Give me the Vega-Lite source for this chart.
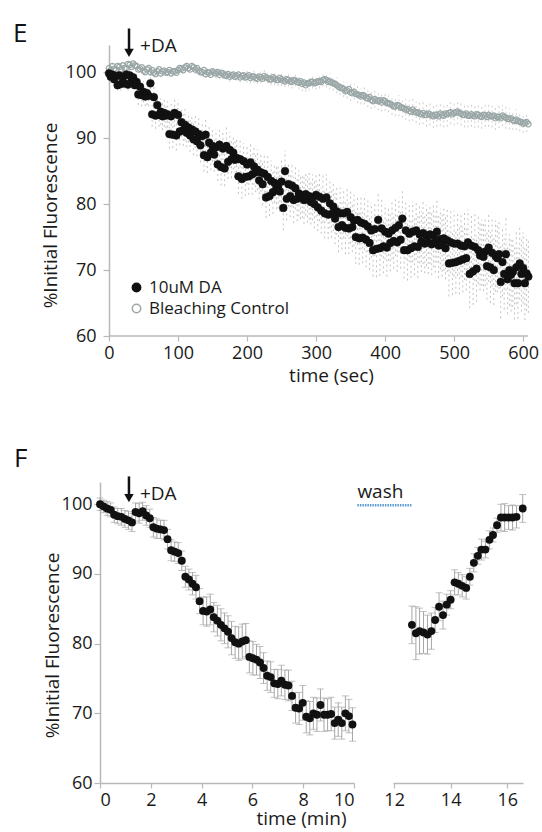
{
"$schema": "https://vega.github.io/schema/vega-lite/v6.json",
"background": "white",
"padding": {"left": 13, "top": 21, "right": 0, "bottom": 0},
"config": {
 "font": "Open Sans",
 "view": {"stroke": null},
 "axis": {"grid": false, "domainColor": "#b8b8b8", "domainWidth": 1.5, "tickColor": "#b8b8b8", "tickWidth": 1.2, "tickSize": 5, "labelFontSize": 18, "labelColor": "#1a1a1a", "titleFontSize": 19, "titleFontWeight": "normal", "titleColor": "#1a1a1a", "labelFont": "Open Sans", "titleFont": "Open Sans"},
 "title": {"fontSize": 26, "fontWeight": "normal", "color": "#111111", "font": "Open Sans"}
},
"datasets": {
 "da": [
{"t":0,"v":99.8,"e":0.8},{"t":2.5,"v":99.3,"e":0.9},{"t":5,"v":99.6,"e":0.8},{"t":7.5,"v":98.9,"e":0.9},{"t":10,"v":99.4,"e":0.9},{"t":12.5,"v":98.0,"e":0.8},{"t":15,"v":99.5,"e":0.8},{"t":17.5,"v":98.2,"e":1.0},{"t":20,"v":99.2,"e":0.9},{"t":22.5,"v":98.3,"e":0.8},{"t":25,"v":99.6,"e":1.0},{"t":27.5,"v":98.1,"e":0.9},{"t":30,"v":99.5,"e":0.9},{"t":32.5,"v":98.6,"e":1.1},{"t":35,"v":99.2,"e":1.2},{"t":37.5,"v":98.0,"e":1.3},
{"t":40,"v":98.5,"e":1.4},{"t":42.5,"v":96.6,"e":1.6},{"t":45,"v":97.8,"e":1.5},{"t":47.5,"v":96.5,"e":1.7},{"t":50,"v":97.0,"e":1.6},{"t":52.5,"v":96.3,"e":1.5},{"t":55,"v":96.8,"e":1.8},{"t":57.5,"v":96.4,"e":1.6},{"t":60,"v":98.3,"e":1.7},{"t":62.5,"v":93.6,"e":1.9},{"t":65,"v":96.2,"e":1.8},{"t":67.5,"v":93.4,"e":2.0},{"t":70,"v":95.0,"e":1.9},{"t":72.5,"v":93.5,"e":1.8},{"t":75,"v":94.0,"e":2.0},{"t":77.5,"v":93.3,"e":2.1},
{"t":80,"v":93.8,"e":2.1},{"t":82.5,"v":93.4,"e":1.9},{"t":85,"v":93.6,"e":2.0},{"t":87.5,"v":90.6,"e":2.2},{"t":90,"v":93.3,"e":2.2},{"t":92.5,"v":90.5,"e":2.0},{"t":95,"v":93.8,"e":2.1},{"t":97.5,"v":90.4,"e":2.3},{"t":100,"v":93.5,"e":2.3},{"t":102.5,"v":91.0,"e":2.1},{"t":105,"v":92.4,"e":2.2},{"t":107.5,"v":91.2,"e":2.4},{"t":110,"v":92.0,"e":2.4},{"t":112.5,"v":90.8,"e":2.2},{"t":115,"v":91.6,"e":2.3},{"t":117.5,"v":90.4,"e":2.5},
{"t":120,"v":91.3,"e":2.2},{"t":122.5,"v":89.8,"e":2.4},{"t":125,"v":91.0,"e":2.5},{"t":127.5,"v":89.5,"e":2.3},{"t":130,"v":90.6,"e":2.4},{"t":132.5,"v":88.9,"e":2.6},{"t":135,"v":90.3,"e":2.3},{"t":137.5,"v":87.4,"e":2.5},{"t":140,"v":90.5,"e":2.6},{"t":142.5,"v":87.1,"e":2.4},{"t":145,"v":89.3,"e":2.5},{"t":147.5,"v":87.8,"e":2.7},{"t":150,"v":88.8,"e":2.4},{"t":152.5,"v":87.5,"e":2.6},{"t":155,"v":88.6,"e":2.7},{"t":157.5,"v":86.0,"e":2.5},
{"t":160,"v":89.0,"e":2.6},{"t":162.5,"v":85.6,"e":2.8},{"t":165,"v":88.4,"e":2.5},{"t":167.5,"v":85.4,"e":2.7},{"t":170,"v":88.8,"e":2.8},{"t":172.5,"v":86.4,"e":2.6},{"t":175,"v":88.2,"e":2.7},{"t":177.5,"v":86.8,"e":2.9},{"t":180,"v":87.8,"e":2.6},{"t":182.5,"v":86.7,"e":2.8},{"t":185,"v":87.0,"e":2.9},{"t":187.5,"v":84.2,"e":2.7},{"t":190,"v":86.8,"e":2.8},{"t":192.5,"v":83.8,"e":3.0},{"t":195,"v":86.5,"e":2.7},{"t":197.5,"v":84.1,"e":2.9},
{"t":200,"v":86.0,"e":3.0},{"t":202.5,"v":84.2,"e":2.8},{"t":205,"v":86.3,"e":2.9},{"t":207.5,"v":84.5,"e":3.1},{"t":210,"v":85.7,"e":2.8},{"t":212.5,"v":84.8,"e":3.0},{"t":215,"v":85.2,"e":3.1},{"t":217.5,"v":83.6,"e":2.9},{"t":220,"v":84.8,"e":3.0},{"t":222.5,"v":83.0,"e":3.2},{"t":225,"v":84.6,"e":2.9},{"t":227.5,"v":81.0,"e":3.1},{"t":230,"v":84.1,"e":3.2},{"t":232.5,"v":81.2,"e":3.0},{"t":235,"v":83.5,"e":3.1},{"t":237.5,"v":81.8,"e":3.3},
{"t":240,"v":83.2,"e":3.0},{"t":242.5,"v":82.4,"e":3.2},{"t":245,"v":82.6,"e":3.3},{"t":247.5,"v":81.9,"e":3.1},{"t":250,"v":83.4,"e":3.2},{"t":252.5,"v":79.4,"e":3.4},{"t":255,"v":85.0,"e":3.1},{"t":257.5,"v":80.8,"e":3.3},{"t":260,"v":83.0,"e":3.4},{"t":262.5,"v":81.2,"e":3.2},{"t":265,"v":82.8,"e":3.3},{"t":267.5,"v":80.6,"e":3.5},{"t":270,"v":82.4,"e":3.2},{"t":272.5,"v":80.8,"e":3.4},{"t":275,"v":81.6,"e":3.5},{"t":277.5,"v":81.0,"e":3.3},
{"t":280,"v":81.3,"e":3.4},{"t":282.5,"v":80.6,"e":3.6},{"t":285,"v":81.5,"e":3.3},{"t":287.5,"v":80.7,"e":3.5},{"t":290,"v":81.2,"e":3.6},{"t":292.5,"v":80.3,"e":3.4},{"t":295,"v":81.0,"e":3.5},{"t":297.5,"v":80.0,"e":3.7},{"t":300,"v":81.4,"e":3.4},{"t":302.5,"v":79.5,"e":3.6},{"t":305,"v":81.1,"e":3.7},{"t":307.5,"v":79.0,"e":3.5},{"t":310,"v":80.8,"e":3.6},{"t":312.5,"v":78.6,"e":3.8},{"t":315,"v":81.0,"e":3.5},{"t":317.5,"v":78.4,"e":3.7},
{"t":320,"v":80.1,"e":3.8},{"t":322.5,"v":78.5,"e":3.6},{"t":325,"v":79.6,"e":3.7},{"t":327.5,"v":77.8,"e":3.9},{"t":330,"v":78.9,"e":3.6},{"t":332.5,"v":76.5,"e":3.8},{"t":335,"v":78.6,"e":3.9},{"t":337.5,"v":76.8,"e":3.7},{"t":340,"v":78.6,"e":3.8},{"t":342.5,"v":76.4,"e":4.0},{"t":345,"v":78.8,"e":3.7},{"t":347.5,"v":76.3,"e":3.9},{"t":350,"v":78.0,"e":4.0},{"t":352.5,"v":76.5,"e":3.8},{"t":355,"v":77.5,"e":3.9},{"t":357.5,"v":75.0,"e":4.1},
{"t":360,"v":77.6,"e":3.8},{"t":362.5,"v":74.8,"e":4.0},{"t":365,"v":77.2,"e":4.1},{"t":367.5,"v":74.9,"e":3.9},{"t":370,"v":77.0,"e":4.0},{"t":372.5,"v":74.6,"e":4.2},{"t":375,"v":76.6,"e":3.9},{"t":377.5,"v":74.1,"e":4.1},{"t":380,"v":76.0,"e":4.2},{"t":382.5,"v":73.0,"e":4.0},{"t":385,"v":76.2,"e":4.1},{"t":387.5,"v":73.2,"e":4.3},{"t":390,"v":77.6,"e":4.0},{"t":392.5,"v":73.3,"e":4.2},{"t":395,"v":76.3,"e":4.3},{"t":397.5,"v":73.6,"e":4.1},
{"t":400,"v":75.8,"e":4.2},{"t":402.5,"v":73.4,"e":4.4},{"t":405,"v":75.5,"e":4.1},{"t":407.5,"v":74.1,"e":4.3},{"t":410,"v":76.0,"e":4.4},{"t":412.5,"v":74.4,"e":4.2},{"t":415,"v":76.4,"e":4.3},{"t":417.5,"v":74.2,"e":4.5},{"t":420,"v":76.8,"e":4.2},{"t":422.5,"v":74.6,"e":4.4},{"t":425,"v":77.8,"e":4.5},{"t":427.5,"v":73.0,"e":4.3},{"t":430,"v":76.0,"e":4.4},{"t":432.5,"v":73.0,"e":4.6},{"t":435,"v":75.5,"e":4.3},{"t":437.5,"v":73.3,"e":4.5},
{"t":440,"v":75.8,"e":4.6},{"t":442.5,"v":73.6,"e":4.4},{"t":445,"v":76.0,"e":4.5},{"t":447.5,"v":73.5,"e":4.7},{"t":450,"v":75.4,"e":4.4},{"t":452.5,"v":74.3,"e":4.6},{"t":455,"v":75.6,"e":4.7},{"t":457.5,"v":74.0,"e":4.5},{"t":460,"v":75.2,"e":4.6},{"t":462.5,"v":74.2,"e":4.8},{"t":465,"v":75.4,"e":4.5},{"t":467.5,"v":73.9,"e":4.7},{"t":470,"v":75.2,"e":4.8},{"t":472.5,"v":74.2,"e":4.6},{"t":475,"v":75.8,"e":4.7},{"t":477.5,"v":73.7,"e":4.9},
{"t":480,"v":74.7,"e":4.6},{"t":482.5,"v":73.8,"e":4.8},{"t":485,"v":74.8,"e":4.9},{"t":487.5,"v":73.3,"e":4.7},{"t":490,"v":74.5,"e":4.8},{"t":492.5,"v":71.0,"e":5.0},{"t":495,"v":74.2,"e":4.7},{"t":497.5,"v":71.1,"e":4.9},{"t":500,"v":74.0,"e":5.0},{"t":502.5,"v":71.2,"e":4.8},{"t":505,"v":74.0,"e":4.9},{"t":507.5,"v":71.4,"e":5.1},{"t":510,"v":73.7,"e":4.8},{"t":512.5,"v":71.6,"e":5.0},{"t":515,"v":73.6,"e":5.1},{"t":517.5,"v":71.8,"e":4.9},
{"t":520,"v":74.2,"e":5.0},{"t":522.5,"v":69.4,"e":5.2},{"t":525,"v":73.7,"e":4.9},{"t":527.5,"v":69.8,"e":5.1},{"t":530,"v":73.5,"e":5.2},{"t":532.5,"v":70.2,"e":5.0},{"t":535,"v":73.0,"e":5.1},{"t":537.5,"v":72.2,"e":5.3},{"t":540,"v":72.6,"e":5.0},{"t":542.5,"v":72.0,"e":5.2},{"t":545,"v":72.8,"e":5.3},{"t":547.5,"v":70.6,"e":5.1},{"t":550,"v":73.4,"e":5.2},{"t":552.5,"v":70.4,"e":5.4},{"t":555,"v":72.6,"e":5.1},{"t":557.5,"v":70.0,"e":5.3},
{"t":560,"v":72.1,"e":5.4},{"t":562.5,"v":71.8,"e":5.2},{"t":565,"v":72.4,"e":5.3},{"t":567.5,"v":68.2,"e":5.5},{"t":570,"v":71.2,"e":5.2},{"t":572.5,"v":69.4,"e":5.4},{"t":575,"v":72.4,"e":5.5},{"t":577.5,"v":68.6,"e":5.3},{"t":580,"v":70.0,"e":5.4},{"t":582.5,"v":69.3,"e":5.6},{"t":585,"v":69.7,"e":5.3},{"t":587.5,"v":68.0,"e":5.5},{"t":590,"v":70.4,"e":5.6},{"t":592.5,"v":68.0,"e":5.4},{"t":595,"v":71.0,"e":5.5},{"t":597.5,"v":69.4,"e":5.7},
{"t":600,"v":70.3,"e":5.4},{"t":602.5,"v":68.0,"e":5.6},{"t":605,"v":69.5,"e":5.7},{"t":607.5,"v":69.0,"e":5.5}
 ],
 "bc": [
{"t":0,"v":100.6,"e":0.5},{"t":5,"v":100.9,"e":0.6},{"t":10,"v":100.4,"e":0.5},{"t":15,"v":100.8,"e":0.6},{"t":20,"v":101.0,"e":0.5},{"t":25,"v":100.6,"e":0.6},{"t":30,"v":101.1,"e":0.5},{"t":35,"v":101.3,"e":0.6},{"t":40,"v":100.9,"e":0.5},{"t":45,"v":100.5,"e":0.6},{"t":50,"v":100.2,"e":0.6},{"t":55,"v":100.4,"e":0.5},{"t":60,"v":100.0,"e":0.6},{"t":65,"v":99.9,"e":0.5},{"t":70,"v":100.1,"e":0.6},{"t":75,"v":99.8,"e":0.6},
{"t":80,"v":100.2,"e":0.5},{"t":85,"v":100.0,"e":0.6},{"t":90,"v":99.8,"e":0.6},{"t":95,"v":100.1,"e":0.5},{"t":100,"v":100.3,"e":0.6},{"t":105,"v":100.5,"e":0.6},{"t":110,"v":100.7,"e":0.5},{"t":115,"v":100.6,"e":0.6},{"t":120,"v":100.9,"e":0.6},{"t":125,"v":100.4,"e":0.7},{"t":130,"v":100.2,"e":0.6},{"t":135,"v":100.0,"e":0.7},{"t":140,"v":99.7,"e":0.6},{"t":145,"v":99.9,"e":0.7},{"t":150,"v":100.1,"e":0.7},{"t":155,"v":99.8,"e":0.8},
{"t":160,"v":99.6,"e":0.7},{"t":165,"v":99.8,"e":0.8},{"t":170,"v":99.5,"e":0.7},{"t":175,"v":99.3,"e":0.8},{"t":180,"v":99.6,"e":0.8},{"t":185,"v":99.4,"e":0.7},{"t":190,"v":99.2,"e":0.8},{"t":195,"v":99.5,"e":0.8},{"t":200,"v":99.3,"e":0.9},{"t":205,"v":99.1,"e":0.8},{"t":210,"v":99.3,"e":0.9},{"t":215,"v":99.0,"e":0.8},{"t":220,"v":99.2,"e":0.9},{"t":225,"v":99.4,"e":0.9},{"t":230,"v":99.1,"e":0.8},{"t":235,"v":98.9,"e":0.9},
{"t":240,"v":99.0,"e":1.0},{"t":245,"v":98.8,"e":0.9},{"t":250,"v":98.9,"e":1.0},{"t":255,"v":98.6,"e":0.9},{"t":260,"v":98.8,"e":1.0},{"t":265,"v":98.5,"e":1.0},{"t":270,"v":98.7,"e":0.9},{"t":275,"v":98.4,"e":1.0},{"t":280,"v":98.2,"e":1.1},{"t":285,"v":98.0,"e":1.0},{"t":290,"v":98.3,"e":1.1},{"t":295,"v":98.5,"e":1.0},{"t":300,"v":98.4,"e":1.1},{"t":305,"v":98.6,"e":1.1},{"t":310,"v":98.8,"e":1.0},{"t":315,"v":98.8,"e":1.1},
{"t":320,"v":98.6,"e":1.2},{"t":325,"v":98.3,"e":1.1},{"t":330,"v":98.0,"e":1.2},{"t":335,"v":97.6,"e":1.1},{"t":340,"v":97.4,"e":1.2},{"t":345,"v":97.2,"e":1.2},{"t":350,"v":96.9,"e":1.3},{"t":355,"v":97.0,"e":1.2},{"t":360,"v":96.6,"e":1.3},{"t":365,"v":96.3,"e":1.2},{"t":370,"v":96.4,"e":1.3},{"t":375,"v":96.0,"e":1.3},{"t":380,"v":95.8,"e":1.4},{"t":385,"v":95.9,"e":1.3},{"t":390,"v":95.6,"e":1.4},{"t":395,"v":95.4,"e":1.4},
{"t":400,"v":95.6,"e":1.5},{"t":405,"v":95.3,"e":1.4},{"t":410,"v":95.0,"e":1.5},{"t":415,"v":94.8,"e":1.5},{"t":420,"v":94.9,"e":1.6},{"t":425,"v":94.6,"e":1.5},{"t":430,"v":94.3,"e":1.6},{"t":435,"v":94.1,"e":1.6},{"t":440,"v":94.3,"e":1.7},{"t":445,"v":93.9,"e":1.6},{"t":450,"v":93.7,"e":1.7},{"t":455,"v":93.8,"e":1.7},{"t":460,"v":93.5,"e":1.8},{"t":465,"v":93.6,"e":1.7},{"t":470,"v":93.3,"e":1.8},{"t":475,"v":93.5,"e":1.8},
{"t":480,"v":93.7,"e":1.9},{"t":485,"v":93.4,"e":1.8},{"t":490,"v":93.6,"e":1.9},{"t":495,"v":93.9,"e":1.8},{"t":500,"v":93.8,"e":1.9},{"t":505,"v":94.0,"e":1.9},{"t":510,"v":93.7,"e":1.8},{"t":515,"v":93.5,"e":1.9},{"t":520,"v":93.4,"e":1.8},{"t":525,"v":93.6,"e":1.9},{"t":530,"v":93.3,"e":1.8},{"t":535,"v":93.5,"e":1.9},{"t":540,"v":93.2,"e":1.8},{"t":545,"v":93.4,"e":1.7},{"t":550,"v":93.5,"e":1.8},{"t":555,"v":93.3,"e":1.7},
{"t":560,"v":93.0,"e":1.8},{"t":565,"v":93.2,"e":1.7},{"t":570,"v":93.4,"e":1.6},{"t":575,"v":93.1,"e":1.7},{"t":580,"v":92.9,"e":1.6},{"t":585,"v":92.7,"e":1.5},{"t":590,"v":92.8,"e":1.6},{"t":595,"v":92.5,"e":1.5},{"t":600,"v":92.2,"e":1.4},{"t":605,"v":92.4,"e":1.5}
 ],
 "bc2": [
{"t":2.5,"v":100.3},{"t":7.5,"v":100.5},{"t":12.5,"v":100.9},{"t":17.5,"v":100.4},{"t":22.5,"v":100.6},{"t":27.5,"v":101.2},{"t":32.5,"v":100.8},{"t":37.5,"v":101.0},{"t":42.5,"v":100.4},{"t":47.5,"v":100.7},{"t":52.5,"v":100.0},{"t":57.5,"v":100.6},{"t":62.5,"v":100.3},{"t":67.5,"v":99.7},{"t":72.5,"v":100.4},{"t":77.5,"v":100.1},
{"t":82.5,"v":99.9},{"t":87.5,"v":100.3},{"t":92.5,"v":100.1},{"t":97.5,"v":99.9},{"t":102.5,"v":100.6},{"t":107.5,"v":100.3},{"t":112.5,"v":100.9},{"t":117.5,"v":100.4},{"t":122.5,"v":100.7},{"t":127.5,"v":100.6},{"t":132.5,"v":100.0},{"t":137.5,"v":100.3},{"t":142.5,"v":100.0},{"t":147.5,"v":99.6},{"t":152.5,"v":99.9},{"t":157.5,"v":100.0},
{"t":162.5,"v":99.9},{"t":167.5,"v":99.5},{"t":172.5,"v":99.7},{"t":177.5,"v":99.5},{"t":182.5,"v":99.3},{"t":187.5,"v":99.6},{"t":192.5,"v":99.4},{"t":197.5,"v":99.2},{"t":202.5,"v":99.5},{"t":207.5,"v":99.3},{"t":212.5,"v":99.1},{"t":217.5,"v":99.3},{"t":222.5,"v":99.0},{"t":227.5,"v":99.2},{"t":232.5,"v":98.9},{"t":237.5,"v":99.2},
{"t":242.5,"v":98.8},{"t":247.5,"v":99.1},{"t":252.5,"v":98.7},{"t":257.5,"v":98.9},{"t":262.5,"v":98.6},{"t":267.5,"v":98.8},{"t":272.5,"v":98.5},{"t":277.5,"v":98.6},{"t":282.5,"v":98.4},{"t":287.5,"v":98.3},{"t":292.5,"v":98.5},{"t":297.5,"v":98.3},{"t":302.5,"v":98.6},{"t":307.5,"v":98.5},{"t":312.5,"v":98.9},{"t":317.5,"v":98.5},
{"t":322.5,"v":98.4},{"t":327.5,"v":98.2},{"t":332.5,"v":97.8},{"t":337.5,"v":97.6},{"t":342.5,"v":97.1},{"t":347.5,"v":97.4},{"t":352.5,"v":96.8},{"t":357.5,"v":96.7},{"t":362.5,"v":96.5},{"t":367.5,"v":96.5},{"t":372.5,"v":96.1},{"t":377.5,"v":96.2},{"t":382.5,"v":95.6},{"t":387.5,"v":95.7},{"t":392.5,"v":95.7},{"t":397.5,"v":95.7},
{"t":402.5,"v":95.3},{"t":407.5,"v":95.2},{"t":412.5,"v":94.8},{"t":417.5,"v":95.0},{"t":422.5,"v":94.6},{"t":427.5,"v":94.5},{"t":432.5,"v":94.4},{"t":437.5,"v":94.0},{"t":442.5,"v":94.0},{"t":447.5,"v":93.9},{"t":452.5,"v":93.6},{"t":457.5,"v":93.5},{"t":462.5,"v":93.7},{"t":467.5,"v":93.4},{"t":472.5,"v":93.5},{"t":477.5,"v":93.3},
{"t":482.5,"v":93.5},{"t":487.5,"v":93.7},{"t":492.5,"v":93.8},{"t":497.5,"v":93.6},{"t":502.5,"v":93.9},{"t":507.5,"v":93.8},{"t":512.5,"v":93.5},{"t":517.5,"v":93.7},{"t":522.5,"v":93.4},{"t":527.5,"v":93.4},{"t":532.5,"v":93.6},{"t":537.5,"v":93.3},{"t":542.5,"v":93.5},{"t":547.5,"v":93.2},{"t":552.5,"v":93.3},{"t":557.5,"v":93.4},
{"t":562.5,"v":93.2},{"t":567.5,"v":93.0},{"t":572.5,"v":93.2},{"t":577.5,"v":92.9},{"t":582.5,"v":93.0},{"t":587.5,"v":92.6},{"t":592.5,"v":92.6},{"t":597.5,"v":92.4},{"t":602.5,"v":92.3},{"t":607.5,"v":92.1}
 ],
 "f1": [
{"t":0,"v":100.0,"e":0.9},{"t":0.14,"v":99.7,"e":0.9},{"t":0.28,"v":99.4,"e":1.0},{"t":0.42,"v":99.2,"e":1.0},{"t":0.56,"v":98.5,"e":1.1},{"t":0.7,"v":98.3,"e":1.1},{"t":0.84,"v":98.2,"e":1.2},{"t":0.98,"v":97.9,"e":1.2},{"t":1.12,"v":97.7,"e":1.3},{"t":1.26,"v":97.4,"e":1.3},{"t":1.4,"v":98.9,"e":1.3},{"t":1.54,"v":98.7,"e":1.4},{"t":1.68,"v":99.0,"e":1.3},{"t":1.82,"v":98.4,"e":1.4},{"t":1.96,"v":98.0,"e":1.3},{"t":2.1,"v":96.7,"e":1.4},
{"t":2.24,"v":96.5,"e":1.4},{"t":2.38,"v":96.4,"e":1.3},{"t":2.52,"v":96.3,"e":1.4},{"t":2.66,"v":95.0,"e":1.4},{"t":2.8,"v":93.4,"e":1.5},{"t":2.94,"v":93.2,"e":1.4},{"t":3.08,"v":93.0,"e":1.5},{"t":3.22,"v":91.9,"e":1.4},{"t":3.36,"v":89.6,"e":1.5},{"t":3.5,"v":89.2,"e":1.5},{"t":3.64,"v":88.6,"e":1.6},{"t":3.78,"v":88.1,"e":1.7},{"t":3.92,"v":86.1,"e":1.8},{"t":4.06,"v":84.7,"e":2.0},{"t":4.2,"v":84.6,"e":2.1},{"t":4.34,"v":84.9,"e":2.2},
{"t":4.48,"v":83.8,"e":2.1},{"t":4.62,"v":83.3,"e":2.2},{"t":4.76,"v":82.7,"e":2.3},{"t":4.9,"v":82.2,"e":2.2},{"t":5.04,"v":81.7,"e":2.3},{"t":5.18,"v":80.8,"e":2.4},{"t":5.32,"v":80.2,"e":2.3},{"t":5.46,"v":80.0,"e":2.4},{"t":5.6,"v":80.3,"e":2.5},{"t":5.74,"v":80.5,"e":2.4},{"t":5.88,"v":78.1,"e":2.3},{"t":6.02,"v":77.9,"e":2.4},{"t":6.16,"v":77.7,"e":2.2},{"t":6.3,"v":77.3,"e":2.3},{"t":6.44,"v":76.5,"e":2.2},{"t":6.58,"v":75.4,"e":2.1},
{"t":6.72,"v":75.2,"e":2.2},{"t":6.86,"v":74.3,"e":2.0},{"t":7.0,"v":74.2,"e":2.1},{"t":7.14,"v":74.7,"e":2.2},{"t":7.28,"v":74.1,"e":2.1},{"t":7.42,"v":74.0,"e":2.2},{"t":7.56,"v":72.5,"e":2.1},{"t":7.7,"v":70.8,"e":2.2},{"t":7.84,"v":70.7,"e":2.3},{"t":7.98,"v":71.5,"e":2.5},{"t":8.12,"v":69.5,"e":2.3},{"t":8.26,"v":69.3,"e":2.4},{"t":8.4,"v":70.0,"e":2.3},{"t":8.54,"v":69.8,"e":2.4},{"t":8.68,"v":71.2,"e":2.3},{"t":8.82,"v":69.8,"e":2.4},
{"t":8.96,"v":69.8,"e":2.3},{"t":9.1,"v":69.9,"e":2.4},{"t":9.24,"v":68.6,"e":2.3},{"t":9.38,"v":69.1,"e":2.4},{"t":9.52,"v":68.6,"e":2.3},{"t":9.66,"v":70.0,"e":2.5},{"t":9.8,"v":69.6,"e":2.4},{"t":9.94,"v":68.4,"e":2.4}
 ],
 "f2": [
{"t":12.63,"v":82.7,"e":2.7},{"t":12.77,"v":81.5,"e":3.8},{"t":12.9,"v":81.8,"e":3.3},{"t":13.04,"v":81.6,"e":3.0},{"t":13.18,"v":81.3,"e":2.8},{"t":13.32,"v":81.8,"e":2.6},{"t":13.45,"v":83.4,"e":1.8},{"t":13.59,"v":85.3,"e":2.0},{"t":13.73,"v":84.1,"e":2.0},{"t":13.86,"v":85.6,"e":1.5},{"t":14.0,"v":86.3,"e":1.3},{"t":14.14,"v":88.8,"e":1.8},{"t":14.27,"v":88.6,"e":1.6},{"t":14.41,"v":88.3,"e":1.6},{"t":14.55,"v":88.0,"e":1.6},
{"t":14.68,"v":89.6,"e":1.2},{"t":14.82,"v":91.6,"e":1.3},{"t":14.96,"v":92.6,"e":1.2},{"t":15.09,"v":93.5,"e":1.5},{"t":15.23,"v":93.5,"e":1.2},{"t":15.37,"v":94.9,"e":1.3},{"t":15.5,"v":95.6,"e":1.0},{"t":15.64,"v":97.0,"e":1.0},{"t":15.78,"v":98.1,"e":1.9},{"t":15.91,"v":98.1,"e":2.0},{"t":16.05,"v":98.1,"e":1.7},{"t":16.19,"v":98.1,"e":1.8},{"t":16.33,"v":98.2,"e":1.6},{"t":16.55,"v":99.4,"e":2.0}
 ]
},
"concat": [
 {
  "width": 428, "height": 291,
  "title": {"text": "E", "anchor": "start", "frame": "group", "dx": -87, "offset": -20},
  "layer": [
   {"data": {"name": "bc"}, "mark": {"type": "errorbar", "color": "#cfcfcf", "thickness": 1, "rule": {"strokeDash": [2, 3]}},
    "encoding": {
     "x": {"field": "t", "type": "quantitative", "title": "time (sec)", "scale": {"domain": [-13.04, 607], "nice": false, "zero": false}, "axis": {"values": [0, 100, 200, 300, 400, 500, 600], "domain": false, "titleX": 231, "titlePadding": 4, "labelPadding": 3}},
     "y": {"field": "v", "type": "quantitative", "title": "%Initial Fluorescence", "scale": {"domain": [60, 104.1], "nice": false, "zero": false}, "axis": {"values": [60, 70, 80, 90, 100], "offset": -9, "titleY": 170, "labelPadding": 7, "tickSize": 6, "titlePadding": 5}},
     "yError": {"field": "e"}}},
   {"data": {"name": "da"}, "mark": {"type": "errorbar", "color": "#c2c2c2", "thickness": 1, "rule": {"strokeDash": [2, 3]}},
    "encoding": {"x": {"field": "t", "type": "quantitative", "title": "time (sec)"}, "y": {"field": "v", "type": "quantitative", "title": "%Initial Fluorescence"}, "yError": {"field": "e"}}},
   {"data": {"values": [{}]}, "mark": {"type": "rule", "color": "#b8b8b8", "strokeWidth": 1.5}, "encoding": {"x": {"datum": 0}, "x2": {"datum": 607}, "y": {"datum": 60}}},
   {"data": {"name": "bc2"}, "mark": {"type": "point", "filled": false, "size": 30, "strokeWidth": 1.2, "color": "#9aa6a6", "opacity": 1},
    "encoding": {"x": {"field": "t", "type": "quantitative", "title": "time (sec)"}, "y": {"field": "v", "type": "quantitative", "title": "%Initial Fluorescence"}}},
   {"data": {"name": "bc"}, "mark": {"type": "point", "filled": true, "size": 30, "strokeWidth": 1.2, "opacity": 1},
    "encoding": {"x": {"field": "t", "type": "quantitative", "title": "time (sec)"}, "y": {"field": "v", "type": "quantitative", "title": "%Initial Fluorescence"},
     "fill": {"datum": "Bleaching Control", "type": "nominal", "scale": {"domain": ["10uM DA", "Bleaching Control"], "range": ["#111111", "transparent"]}, "legend": {"title": null, "orient": "none", "legendX": 28, "legendY": 234, "padding": 0, "labelFontSize": 17, "labelColor": "#1a1a1a", "symbolSize": 70, "symbolStrokeWidth": 1.5, "symbolOpacity": 1, "rowPadding": 3, "labelOffset": 4}},
     "stroke": {"datum": "Bleaching Control", "type": "nominal", "scale": {"domain": ["10uM DA", "Bleaching Control"], "range": ["#111111", "#9aa6a6"]}, "legend": {"title": null, "orient": "none", "legendX": 28, "legendY": 234, "padding": 0, "labelFontSize": 17, "labelColor": "#1a1a1a", "symbolSize": 70, "symbolStrokeWidth": 1.5, "symbolOpacity": 1, "rowPadding": 3, "labelOffset": 4}}}},
   {"data": {"name": "da"}, "mark": {"type": "point", "filled": true, "size": 60, "strokeWidth": 0.5, "opacity": 1},
    "encoding": {"x": {"field": "t", "type": "quantitative", "title": "time (sec)"}, "y": {"field": "v", "type": "quantitative", "title": "%Initial Fluorescence"},
     "fill": {"datum": "10uM DA", "type": "nominal"},
     "stroke": {"datum": "10uM DA", "type": "nominal"}}},
   {"data": {"values": [{}]}, "mark": {"type": "rule", "color": "#111111", "strokeWidth": 2.5}, "encoding": {"x": {"datum": 29}, "y": {"datum": 106.6}, "y2": {"datum": 103.4}}},
   {"data": {"values": [{}]}, "mark": {"type": "point", "shape": "triangle-down", "filled": true, "color": "#111111", "size": 90, "opacity": 1}, "encoding": {"x": {"datum": 29}, "y": {"datum": 102.9}}},
   {"data": {"values": [{}]}, "mark": {"type": "text", "align": "left", "baseline": "middle", "fontSize": 19, "color": "#1a1a1a"}, "encoding": {"x": {"datum": 45}, "y": {"datum": 104.0}, "text": {"value": "+DA"}}}
  ]
 },
 {
  "hconcat": [
   {
    "width": 254, "height": 301,
    "title": {"text": "F", "anchor": "start", "frame": "group", "dx": -86, "offset": 3},
    "layer": [
     {"data": {"name": "f1"}, "mark": {"type": "errorbar", "color": "#a6a6a6", "thickness": 1, "ticks": {"size": 7}},
      "encoding": {
       "x": {"field": "t", "type": "quantitative", "title": "time (min)", "scale": {"domain": [0, 10], "nice": false}, "axis": {"values": [0, 2, 4, 6, 8, 10], "titleX": 201, "titlePadding": 0, "labelPadding": 3}},
       "y": {"field": "v", "type": "quantitative", "title": "%Initial Fluorescence", "scale": {"domain": [60, 103.2], "nice": false, "zero": false}, "axis": {"values": [60, 70, 80, 90, 100], "titleY": 163, "labelPadding": 2, "tickSize": 6, "titlePadding": -1}},
       "yError": {"field": "e"}}},
     {"data": {"name": "f1"}, "mark": {"type": "point", "filled": true, "size": 62, "color": "#111111", "opacity": 1},
      "encoding": {"x": {"field": "t", "type": "quantitative", "title": "time (min)"}, "y": {"field": "v", "type": "quantitative", "title": "%Initial Fluorescence"}}},
     {"data": {"values": [{}]}, "mark": {"type": "rule", "color": "#111111", "strokeWidth": 2.5}, "encoding": {"x": {"datum": 1.14}, "y": {"datum": 104.0}, "y2": {"datum": 101.4}}},
     {"data": {"values": [{}]}, "mark": {"type": "point", "shape": "triangle-down", "filled": true, "color": "#111111", "size": 90, "opacity": 1}, "encoding": {"x": {"datum": 1.14}, "y": {"datum": 100.9}}},
     {"data": {"values": [{}]}, "mark": {"type": "text", "align": "left", "baseline": "middle", "fontSize": 19, "color": "#1a1a1a"}, "encoding": {"x": {"datum": 1.57}, "y": {"datum": 101.5}, "text": {"value": "+DA"}}}
    ]
   },
   {
    "width": 130, "height": 301,
    "layer": [
     {"data": {"name": "f2"}, "mark": {"type": "errorbar", "color": "#a6a6a6", "thickness": 1, "ticks": {"size": 7}},
      "encoding": {
       "x": {"field": "t", "type": "quantitative", "title": null, "scale": {"domain": [11.96, 16.56], "nice": false}, "axis": {"values": [12, 14, 16], "labelPadding": 3}},
       "y": {"field": "v", "type": "quantitative", "scale": {"domain": [60, 103.2], "nice": false, "zero": false}, "axis": null},
       "yError": {"field": "e"}}},
     {"data": {"name": "f2"}, "mark": {"type": "point", "filled": true, "size": 62, "color": "#111111", "opacity": 1},
      "encoding": {"x": {"field": "t", "type": "quantitative", "title": null}, "y": {"field": "v", "type": "quantitative", "axis": null}}},
     {"data": {"values": [{}]}, "mark": {"type": "text", "align": "left", "baseline": "middle", "fontSize": 19, "color": "#1a1a1a"}, "encoding": {"x": {"datum": 10.7}, "y": {"datum": 101.8, "axis": null}, "text": {"value": "wash"}}},
     {"data": {"values": [{}]}, "mark": {"type": "rule", "color": "#5b9bd5", "strokeWidth": 2.5, "strokeDash": [1.5, 1]}, "encoding": {"x": {"datum": 10.7}, "x2": {"datum": 12.64}, "y": {"datum": 99.85, "axis": null}}}
    ]
   }
  ],
  "bounds": "flush",
  "spacing": 39
 }
],
"columns": 1,
"spacing": 61
}
